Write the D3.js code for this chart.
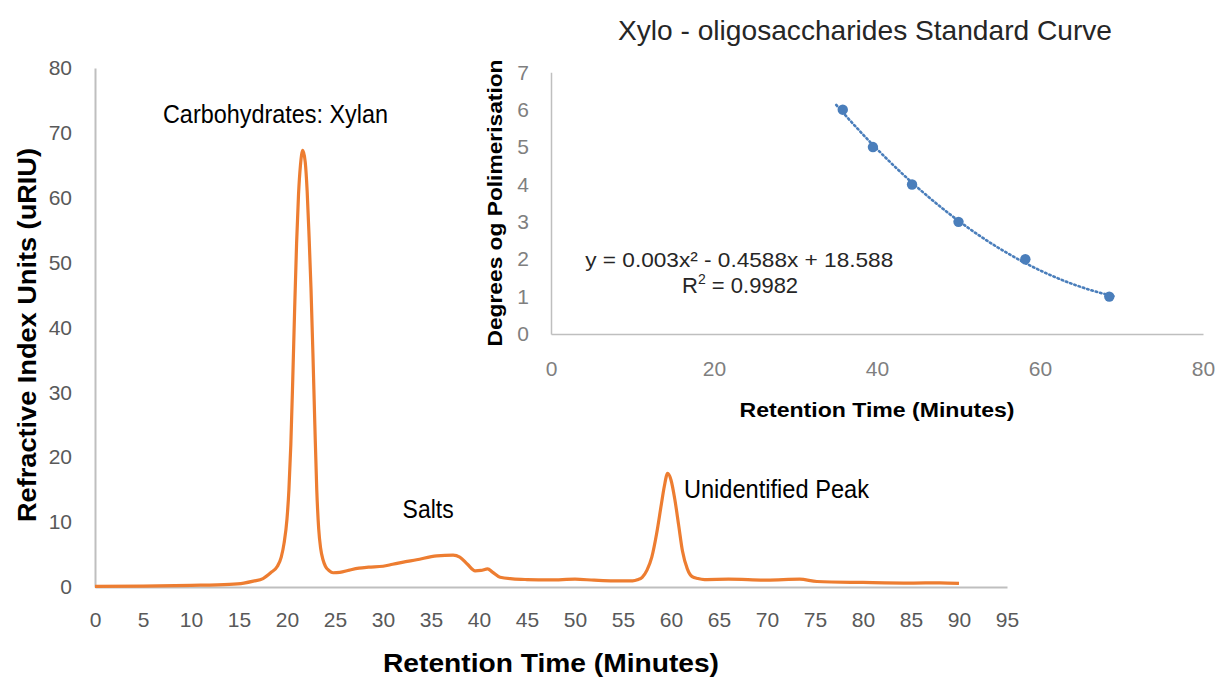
<!DOCTYPE html>
<html><head><meta charset="utf-8">
<script src="https://cdn.jsdelivr.net/npm/d3@7"></script>
<style>body{margin:0;background:#fff} svg{display:block}</style>
</head><body>
<svg id="c" width="1216" height="677"></svg>
<script>
// ---- Main chromatogram data (Retention time in minutes, signal in uRIU)
const chromTime = [0, 5, 10, 14, 15.5, 16.5, 17.5, 18.3, 19.0, 19.4, 19.7, 20.0, 20.2, 20.4, 20.6, 20.8, 21.0, 21.2, 21.4, 21.64, 21.9, 22.1, 22.3, 22.5, 22.7, 22.9, 23.1, 23.3, 23.5, 23.75, 24.0, 24.4, 24.8, 25.5, 26.5, 27.5, 28.5, 30, 31, 32, 33.5, 35.6, 37.3, 38, 38.8, 39.6, 40.2, 40.9, 41.4, 42.2, 43.5, 45, 47.4, 50, 52, 54, 56, 56.5, 57, 57.5, 58, 58.5, 59, 59.3, 59.65, 60, 60.4, 60.8, 61.2, 61.7, 62.2, 62.8, 63.5, 66, 70, 73.4, 75.2, 80, 85, 88, 90];
const chromSignal = [0.1, 0.15, 0.25, 0.4, 0.6, 0.9, 1.3, 2.2, 3.2, 4.6, 6.8, 10.5, 15, 22, 32, 43, 53, 60.5, 65, 67.3, 65.5, 61, 54, 46, 36, 25, 15, 9, 6, 4.2, 3.2, 2.5, 2.2, 2.25, 2.6, 2.9, 3.05, 3.2, 3.5, 3.8, 4.2, 4.8, 4.9, 4.6, 3.5, 2.5, 2.55, 2.8, 2.3, 1.5, 1.25, 1.15, 1.1, 1.2, 1.05, 0.95, 0.95, 1.1, 1.5, 2.6, 4.6, 8.2, 12.8, 15.5, 17.5, 16.5, 13.5, 9.5, 5.5, 2.8, 1.6, 1.3, 1.15, 1.2, 1.05, 1.2, 0.85, 0.7, 0.6, 0.65, 0.55];
const mainXTicks = [0, 5, 10, 15, 20, 25, 30, 35, 40, 45, 50, 55, 60, 65, 70, 75, 80, 85, 90, 95];
const mainYTicks = [0, 10, 20, 30, 40, 50, 60, 70, 80];
const peakLabels = ["Carbohydrates: Xylan", "Salts", "Unidentified Peak"];

// ---- Inset standard curve data
const dpTime = [35.8, 39.5, 44.3, 50.0, 58.2, 68.5];
const dpDegree = [6, 5, 4, 3, 2, 1];
const insetXTicks = [0, 20, 40, 60, 80];
const insetYTicks = [0, 1, 2, 3, 4, 5, 6, 7];
const insetTitle = "Xylo - oligosaccharides Standard Curve";
const equationText = "y = 0.003x² - 0.4588x + 18.588";
const r2Value = "0.9982";

const svg = d3.select("#c");
const FONT = "'Liberation Sans', Arial, sans-serif";
const NARROW = "'Liberation Sans Narrow', 'Liberation Sans', Arial, sans-serif";

function fit(sel, w) { return sel.attr("textLength", w).attr("lengthAdjust", "spacingAndGlyphs"); }

// ===== Main chart =====
const x = d3.scaleLinear().domain([0, 95]).range([95, 1007]);
const y = d3.scaleLinear().domain([0, 80]).range([587, 68]);

const gx = svg.append("g").attr("transform", "translate(0,587)")
  .call(d3.axisBottom(x).tickValues(mainXTicks).tickSize(0).tickSizeOuter(0).tickPadding(25));
gx.select(".domain").attr("stroke", "#BFBFBF").attr("stroke-width", 2);
gx.selectAll("text").attr("font-family", FONT).attr("font-size", 21).attr("fill", "#595959");

const gy = svg.append("g").attr("transform", "translate(95,0)")
  .call(d3.axisLeft(y).tickValues(mainYTicks).tickSize(0).tickSizeOuter(0).tickPadding(23));
gy.select(".domain").attr("stroke", "#BFBFBF").attr("stroke-width", 2);
gy.selectAll("text").attr("font-family", FONT).attr("font-size", 21).attr("fill", "#595959");

const chrom = chromTime.map((t, i) => [t, chromSignal[i]]);
svg.append("path").datum(chrom)
  .attr("fill", "none").attr("stroke", "#ED7D31").attr("stroke-width", 3.2)
  .attr("stroke-linejoin", "round")
  .attr("d", d3.line().x(d => x(d[0])).y(d => y(d[1])).curve(d3.curveMonotoneX));

// peak annotations (placed in data coordinates)
fit(svg.append("text").attr("x", x(18.8)).attr("y", y(71.5)).attr("text-anchor", "middle")
  .attr("font-family", NARROW).attr("font-size", 25).attr("fill", "#000").text(peakLabels[0]), 225);
fit(svg.append("text").attr("x", x(34.7)).attr("y", y(10.6)).attr("text-anchor", "middle")
  .attr("font-family", NARROW).attr("font-size", 25).attr("fill", "#000").text(peakLabels[1]), 51);
fit(svg.append("text").attr("x", x(61.35)).attr("y", y(13.7)).attr("text-anchor", "start")
  .attr("font-family", NARROW).attr("font-size", 25).attr("fill", "#000").text(peakLabels[2]), 185);

// axis titles
fit(svg.append("text").attr("x", 551).attr("y", 672).attr("text-anchor", "middle")
  .attr("font-family", FONT).attr("font-weight", "bold").attr("font-size", 26).attr("fill", "#000")
  .text("Retention Time (Minutes)"), 336);
fit(svg.append("text").attr("transform", "translate(36,335) rotate(-90)").attr("text-anchor", "middle")
  .attr("font-family", FONT).attr("font-weight", "bold").attr("font-size", 25).attr("fill", "#000")
  .text("Refractive Index Units (uRIU)"), 374);

// ===== Inset chart =====
const ix = d3.scaleLinear().domain([0, 80]).range([551, 1203]);
const iy = d3.scaleLinear().domain([0, 7]).range([334, 72.3]);

const igx = svg.append("g").attr("transform", "translate(0,334)")
  .call(d3.axisBottom(ix).tickValues(insetXTicks).tickFormat(d3.format("d")).tickSize(0).tickSizeOuter(0).tickPadding(27));
igx.select(".domain").attr("stroke", "#BFBFBF").attr("stroke-width", 1.5);
igx.selectAll("text").attr("font-family", NARROW).attr("font-size", 21).attr("fill", "#7F7F7F");

const igy = svg.append("g").attr("transform", "translate(551,0)")
  .call(d3.axisLeft(iy).tickValues(insetYTicks).tickFormat(d3.format("d")).tickSize(0).tickSizeOuter(0).tickPadding(22));
igy.select(".domain").attr("stroke", "#BFBFBF").attr("stroke-width", 1.5);
igy.selectAll("text").attr("font-family", NARROW).attr("font-size", 21).attr("fill", "#7F7F7F");

// quadratic least-squares trendline fitted to the data points
function quadFit(xs, ys) {
  const n = xs.length;
  let S = [0, 0, 0, 0, 0], T = [0, 0, 0];
  for (let i = 0; i < n; i++) {
    const xi = xs[i], yi = ys[i];
    for (let k = 0; k < 5; k++) S[k] += Math.pow(xi, k);
    for (let k = 0; k < 3; k++) T[k] += yi * Math.pow(xi, k);
  }
  const M = [[S[0], S[1], S[2], T[0]], [S[1], S[2], S[3], T[1]], [S[2], S[3], S[4], T[2]]];
  for (let c = 0; c < 3; c++) {
    for (let r = c + 1; r < 3; r++) {
      const f = M[r][c] / M[c][c];
      for (let k = c; k < 4; k++) M[r][k] -= f * M[c][k];
    }
  }
  const b = [0, 0, 0];
  for (let r = 2; r >= 0; r--) {
    let s = M[r][3];
    for (let k = r + 1; k < 3; k++) s -= M[r][k] * b[k];
    b[r] = s / M[r][r];
  }
  return t => b[0] + b[1] * t + b[2] * t * t;
}
const fq = quadFit(dpTime, dpDegree);
const tMin = d3.min(dpTime) - 0.8, tMax = d3.max(dpTime) + 0.5;
const trend = d3.range(tMin, tMax + 0.001, (tMax - tMin) / 60).map(t => [t, fq(t)]);
svg.append("path").datum(trend)
  .attr("fill", "none").attr("stroke", "#4A7EBB").attr("stroke-width", 2.6)
  .attr("stroke-dasharray", "1.5,3").attr("stroke-linecap", "round")
  .attr("d", d3.line().x(d => ix(d[0])).y(d => iy(d[1])));

svg.selectAll("circle.dp").data(dpTime.map((t, i) => [t, dpDegree[i]])).enter()
  .append("circle").attr("class", "dp")
  .attr("cx", d => ix(d[0])).attr("cy", d => iy(d[1])).attr("r", 5.2)
  .attr("fill", "#4A7EBB");

// equation and R²
fit(svg.append("text").attr("x", ix(23.1)).attr("y", iy(1.8)).attr("text-anchor", "middle")
  .attr("font-family", FONT).attr("font-size", 21).attr("fill", "#262626").text(equationText), 308);
const r2 = svg.append("text").attr("x", ix(23.2)).attr("y", iy(1.1)).attr("text-anchor", "middle")
  .attr("font-family", FONT).attr("font-size", 22).attr("fill", "#262626");
r2.append("tspan").text("R");
r2.append("tspan").attr("dy", -9).attr("font-size", 14).text("2");
r2.append("tspan").attr("dy", 9).text(" = " + r2Value);

// inset titles
fit(svg.append("text").attr("x", 865).attr("y", 40).attr("text-anchor", "middle")
  .attr("font-family", NARROW).attr("font-size", 28).attr("fill", "#262626").text(insetTitle), 494);
fit(svg.append("text").attr("x", 877).attr("y", 417).attr("text-anchor", "middle")
  .attr("font-family", FONT).attr("font-weight", "bold").attr("font-size", 20).attr("fill", "#000")
  .text("Retention Time (Minutes)"), 275);
fit(svg.append("text").attr("transform", "translate(502,203) rotate(-90)").attr("text-anchor", "middle")
  .attr("font-family", FONT).attr("font-weight", "bold").attr("font-size", 20).attr("fill", "#000")
  .text("Degrees og Polimerisation"), 287);
</script>
</body></html>
